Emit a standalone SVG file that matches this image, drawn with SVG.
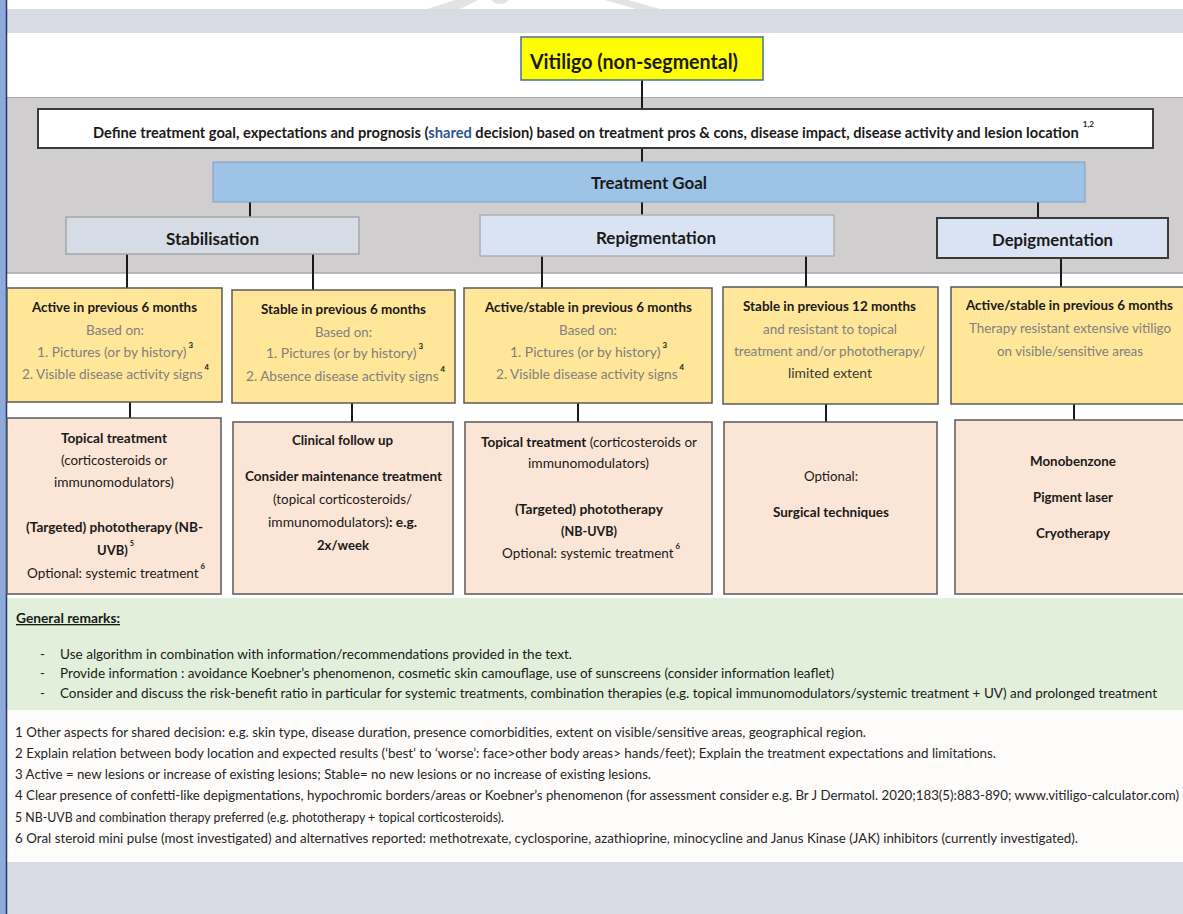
<svg xmlns="http://www.w3.org/2000/svg" width="1183" height="914" viewBox="0 0 1183 914">
<style>
text{font-family:Lato,"Liberation Sans",sans-serif;fill:#1a1a1a;font-size:14px}
.b{font-weight:700}
.g{fill:#808080}
.sup{font-size:8px;font-weight:700;fill:#1a1a1a}
.lbl{font-size:17px;font-weight:700}
.sm{font-size:13px}
.fn{fill:#262626;font-size:13px}
.conn line{stroke:#1a1a1a;stroke-width:2}
.yel{fill:#ffe699;stroke:#5a5a5a;stroke-width:1.5}
.pnk{fill:#fbe5d6;stroke:#5a5a5a;stroke-width:1.5}
</style>
<rect x="0" y="0" width="1183" height="914" fill="#ffffff"/>
<g id="background">
<polygon points="427,9 455,0 478,0 460,9" fill="#e3e3e3"/>
<ellipse cx="500" cy="0" rx="8" ry="4" fill="#e3e3e3"/>
<polygon points="605,0 628,0 660,9 636,9" fill="#e3e3e3"/>
<rect x="0" y="9" width="1183" height="24" fill="#d9dbe4"/>
<rect x="0" y="97" width="1183" height="176" fill="#d0cece"/>
<line x1="7" y1="97.5" x2="1183" y2="97.5" stroke="#a9a9a9" stroke-width="1"/>
<line x1="7" y1="273" x2="1183" y2="273" stroke="#a9a9a9" stroke-width="1.5"/>
<rect x="0" y="598" width="1183" height="112" fill="#e2efda"/>
<rect x="0" y="710" width="1183" height="152" fill="#fdfcfb"/>
<rect x="0" y="862" width="1183" height="52" fill="#d9dbe4"/>
<rect x="0" y="0" width="6" height="914" fill="#8eaadb"/>
<line x1="6.5" y1="0" x2="6.5" y2="914" stroke="#1f3864" stroke-width="1.5"/>
</g>
<g id="connectors" class="conn">
<line x1="642" y1="80" x2="642" y2="109"/>
<line x1="642" y1="148" x2="642" y2="162"/>
<line x1="250" y1="202" x2="250" y2="217"/>
<line x1="642" y1="202" x2="642" y2="215"/>
<line x1="1038" y1="202" x2="1038" y2="217"/>
<line x1="127" y1="254" x2="127" y2="288"/>
<line x1="313" y1="254" x2="313" y2="290"/>
<line x1="542" y1="256" x2="542" y2="288"/>
<line x1="806" y1="256" x2="806" y2="287"/>
<line x1="1061" y1="258" x2="1061" y2="287"/>
<line x1="130" y1="402" x2="130" y2="418"/>
<line x1="352" y1="403" x2="352" y2="422"/>
<line x1="578" y1="403" x2="578" y2="422"/>
<line x1="826" y1="404" x2="826" y2="422"/>
<line x1="1074" y1="404" x2="1074" y2="420"/>
</g>
<g id="vitiligo">
<rect x="521" y="37" width="242" height="43" fill="#ffff00" stroke="#41719c" stroke-width="1.5"/>
<text x="530" y="69" class="b" style="font-size:20px" textLength="208" lengthAdjust="spacingAndGlyphs">Vitiligo (non-segmental)</text>
</g>
<g id="define">
<rect x="38" y="109" width="1115" height="39" fill="#ffffff" stroke="#3a3a3a" stroke-width="2"/>
<text x="93" y="138" class="b" style="font-size:14.5px" textLength="1001" lengthAdjust="spacingAndGlyphs">Define treatment goal, expectations and prognosis (<tspan fill="#2f5597">shared</tspan> decision) based on treatment pros &amp; cons, disease impact, disease activity and lesion location<tspan class="sup" dx="4" dy="-11">1,2</tspan></text>
</g>
<g id="treatment-goal">
<rect x="213" y="162" width="872" height="40" fill="#9dc3e6" stroke="#7f9fc4" stroke-width="1"/>
<text x="591" y="189" class="lbl" textLength="116" lengthAdjust="spacingAndGlyphs">Treatment Goal</text>
</g>
<g id="stabilisation">
<rect x="66" y="217" width="293" height="37" fill="#d6dce5" stroke="#a6a6a6" stroke-width="1.5"/>
<text x="166" y="245" class="lbl" textLength="93" lengthAdjust="spacingAndGlyphs">Stabilisation</text>
</g>
<g id="repigmentation">
<rect x="480" y="215" width="354" height="41" fill="#dae3f3" stroke="#b0b0b0" stroke-width="1.5"/>
<text x="596" y="244" class="lbl" textLength="120" lengthAdjust="spacingAndGlyphs">Repigmentation</text>
</g>
<g id="depigmentation">
<rect x="937" y="218" width="231" height="40" fill="#dae3f3" stroke="#3a3a3a" stroke-width="2"/>
<text x="992" y="246" class="lbl" textLength="121" lengthAdjust="spacingAndGlyphs">Depigmentation</text>
</g>
<g id="active-6">
<rect x="7" y="288" width="215" height="114" class="yel"/>
<text x="32" y="312" class="b" textLength="165" lengthAdjust="spacingAndGlyphs">Active in previous 6 months</text>
<text x="86" y="335" class="g" textLength="58" lengthAdjust="spacingAndGlyphs">Based on:</text>
<text x="37" y="357" class="g" textLength="156" lengthAdjust="spacingAndGlyphs">1. Pictures (or by history)<tspan class="sup" dx="2" dy="-9">3</tspan></text>
<text x="22" y="379" class="g" textLength="187" lengthAdjust="spacingAndGlyphs">2. Visible disease activity signs<tspan class="sup" dx="2" dy="-9">4</tspan></text>
</g>
<g id="stable-6">
<rect x="232" y="290" width="223" height="113" class="yel"/>
<text x="261" y="314" class="b" textLength="165" lengthAdjust="spacingAndGlyphs">Stable in previous 6 months</text>
<text x="315" y="337" class="g" textLength="57" lengthAdjust="spacingAndGlyphs">Based on:</text>
<text x="266" y="358" class="g" textLength="157" lengthAdjust="spacingAndGlyphs">1. Pictures (or by history)<tspan class="sup" dx="2" dy="-9">3</tspan></text>
<text x="246" y="381" class="g" textLength="199" lengthAdjust="spacingAndGlyphs">2. Absence disease activity signs<tspan class="sup" dx="2" dy="-9">4</tspan></text>
</g>
<g id="active-stable-6">
<rect x="464" y="288" width="248" height="115" class="yel"/>
<text x="485" y="312" class="b" textLength="207" lengthAdjust="spacingAndGlyphs">Active/stable in previous 6 months</text>
<text x="559" y="335" class="g" textLength="58" lengthAdjust="spacingAndGlyphs">Based on:</text>
<text x="510" y="357" class="g" textLength="157" lengthAdjust="spacingAndGlyphs">1. Pictures (or by history)<tspan class="sup" dx="2" dy="-9">3</tspan></text>
<text x="496" y="379" class="g" textLength="188" lengthAdjust="spacingAndGlyphs">2. Visible disease activity signs<tspan class="sup" dx="2" dy="-9">4</tspan></text>
</g>
<g id="stable-12">
<rect x="723" y="287" width="215" height="117" class="yel"/>
<text x="743" y="311" class="b" textLength="173" lengthAdjust="spacingAndGlyphs">Stable in previous 12 months</text>
<text x="763" y="334" class="g" textLength="134" lengthAdjust="spacingAndGlyphs">and resistant to topical</text>
<text x="734" y="356" class="g" textLength="191" lengthAdjust="spacingAndGlyphs">treatment and/or phototherapy/</text>
<text x="788" y="378" style="fill:#3a3a3a" textLength="84" lengthAdjust="spacingAndGlyphs">limited extent</text>
</g>
<g id="depig-criteria">
<rect x="951" y="287" width="240" height="117" class="yel"/>
<text x="966" y="310" class="b" textLength="207" lengthAdjust="spacingAndGlyphs">Active/stable in previous 6 months</text>
<text x="969" y="333" class="g" textLength="202" lengthAdjust="spacingAndGlyphs">Therapy resistant extensive vitiligo</text>
<text x="997" y="356" class="g" textLength="146" lengthAdjust="spacingAndGlyphs">on visible/sensitive areas</text>
</g>
<g id="treat-active">
<rect x="7" y="418" width="214" height="176" class="pnk"/>
<text x="61" y="443" class="b" textLength="106" lengthAdjust="spacingAndGlyphs">Topical treatment</text>
<text x="61" y="465" textLength="106" lengthAdjust="spacingAndGlyphs">(corticosteroids or</text>
<text x="54" y="487" textLength="120" lengthAdjust="spacingAndGlyphs">immunomodulators)</text>
<text x="26" y="532" class="b" textLength="177" lengthAdjust="spacingAndGlyphs">(Targeted) phototherapy (NB-</text>
<text x="97" y="555" class="b" textLength="37" lengthAdjust="spacingAndGlyphs">UVB)<tspan class="sup" dx="2" dy="-9">5</tspan></text>
<text x="27" y="578" textLength="178" lengthAdjust="spacingAndGlyphs">Optional: systemic treatment<tspan class="sup" dx="2" dy="-9">6</tspan></text>
</g>
<g id="treat-stable">
<rect x="233" y="422" width="220" height="172" class="pnk"/>
<text x="292" y="445" class="b" textLength="101" lengthAdjust="spacingAndGlyphs">Clinical follow up</text>
<text x="245" y="481" class="b" textLength="197" lengthAdjust="spacingAndGlyphs">Consider maintenance treatment</text>
<text x="273" y="504" textLength="139" lengthAdjust="spacingAndGlyphs">(topical corticosteroids/</text>
<text x="268" y="527" textLength="149" lengthAdjust="spacingAndGlyphs">immunomodulators)<tspan class="b">: e.g.</tspan></text>
<text x="317" y="550" class="b" textLength="52" lengthAdjust="spacingAndGlyphs">2x/week</text>
</g>
<g id="treat-repig">
<rect x="465" y="422" width="247" height="172" class="pnk"/>
<text x="481" y="447" textLength="216" lengthAdjust="spacingAndGlyphs"><tspan class="b">Topical treatment</tspan> (corticosteroids or</text>
<text x="528" y="468" textLength="121" lengthAdjust="spacingAndGlyphs">immunomodulators)</text>
<text x="515" y="514" class="b" textLength="148" lengthAdjust="spacingAndGlyphs">(Targeted) phototherapy</text>
<text x="561" y="536" class="b" textLength="56" lengthAdjust="spacingAndGlyphs">(NB-UVB)</text>
<text x="502" y="558" textLength="178" lengthAdjust="spacingAndGlyphs">Optional: systemic treatment<tspan class="sup" dx="2" dy="-9">6</tspan></text>
</g>
<g id="treat-surgical">
<rect x="724" y="422" width="213" height="172" class="pnk"/>
<text x="804" y="481" textLength="54" lengthAdjust="spacingAndGlyphs">Optional:</text>
<text x="773" y="517" class="b" textLength="116" lengthAdjust="spacingAndGlyphs">Surgical techniques</text>
</g>
<g id="treat-depig">
<rect x="955" y="420" width="236" height="174" class="pnk"/>
<text x="1030" y="466" class="b" textLength="86" lengthAdjust="spacingAndGlyphs">Monobenzone</text>
<text x="1033" y="502" class="b" textLength="80" lengthAdjust="spacingAndGlyphs">Pigment laser</text>
<text x="1036" y="538" class="b" textLength="74" lengthAdjust="spacingAndGlyphs">Cryotherapy</text>
</g>
<g id="general-remarks">
<text x="16" y="623" class="b sm" text-decoration="underline" textLength="104" lengthAdjust="spacingAndGlyphs">General remarks:</text>
<text x="40" y="659" class="sm">-</text>
<text x="60" y="659" class="sm" textLength="512" lengthAdjust="spacingAndGlyphs">Use algorithm in combination with information/recommendations provided in the text.</text>
<text x="40" y="678" class="sm">-</text>
<text x="60" y="678" class="sm" textLength="774" lengthAdjust="spacingAndGlyphs">Provide information : avoidance Koebner’s phenomenon, cosmetic skin camouflage, use of sunscreens (consider information leaflet)</text>
<text x="40" y="698" class="sm">-</text>
<text x="60" y="698" class="sm" textLength="1097" lengthAdjust="spacingAndGlyphs">Consider and discuss the risk-benefit ratio in particular for systemic treatments, combination therapies (e.g. topical immunomodulators/systemic treatment + UV) and prolonged treatment</text>
</g>
<g id="footnotes">
<text x="15" y="737" class="fn" textLength="851" lengthAdjust="spacingAndGlyphs">1 Other aspects for shared decision: e.g. skin type, disease duration, presence comorbidities, extent on visible/sensitive areas, geographical region.</text>
<text x="15" y="758" class="fn" textLength="981" lengthAdjust="spacingAndGlyphs">2 Explain relation between body location and expected results (‘best’ to ‘worse’: face&gt;other body areas&gt; hands/feet); Explain the treatment expectations and limitations.</text>
<text x="15" y="779" class="fn" textLength="636" lengthAdjust="spacingAndGlyphs">3 Active = new lesions or increase of existing lesions; Stable= no new lesions or no increase of existing lesions.</text>
<text x="15" y="800" class="fn" textLength="1164" lengthAdjust="spacingAndGlyphs">4 Clear presence of confetti-like depigmentations, hypochromic borders/areas or Koebner’s phenomenon (for assessment consider e.g. Br J Dermatol. 2020;183(5):883-890; www.vitiligo-calculator.com)</text>
<text x="15" y="822" class="fn" textLength="489" lengthAdjust="spacingAndGlyphs">5 NB-UVB and combination therapy preferred  (e.g. phototherapy + topical corticosteroids).</text>
<text x="15" y="843" class="fn" textLength="1063" lengthAdjust="spacingAndGlyphs">6 Oral steroid mini pulse (most investigated) and alternatives reported: methotrexate, cyclosporine, azathioprine, minocycline and Janus Kinase (JAK) inhibitors (currently investigated).</text>
</g>
</svg>
